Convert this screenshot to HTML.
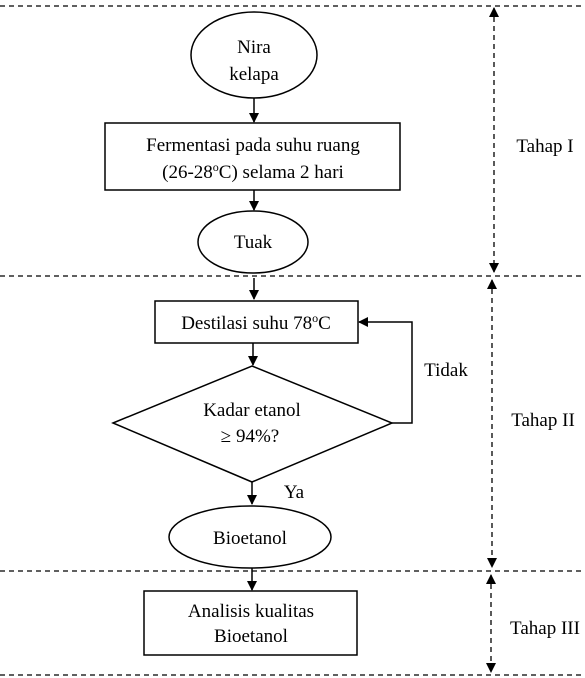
<!DOCTYPE html>
<html><head><style>body{margin:0;background:#fff}svg{display:block}</style></head><body>
<svg width="585" height="678" xmlns="http://www.w3.org/2000/svg" font-family="Liberation Serif, serif" font-size="19" fill="none" stroke="#000">
<defs><marker id="a" markerWidth="10" markerHeight="10" refX="9" refY="5" orient="auto-start-reverse" markerUnits="userSpaceOnUse"><path d="M0,0 L10,5 L0,10z" fill="#000" stroke="none"/></marker></defs>
<g stroke-dasharray="5,4" stroke-width="1.3">
<line x1="0" y1="6" x2="585" y2="6"/><line x1="0" y1="276" x2="585" y2="276"/><line x1="0" y1="571" x2="585" y2="571"/><line x1="0" y1="675" x2="585" y2="675"/>
<line x1="494" y1="8" x2="494" y2="272" marker-start="url(#a)" marker-end="url(#a)"/>
<line x1="492" y1="280" x2="492" y2="567" marker-start="url(#a)" marker-end="url(#a)"/>
<line x1="491" y1="575" x2="491" y2="672" marker-start="url(#a)" marker-end="url(#a)"/>
</g>
<g stroke-width="1.5">
<ellipse cx="254" cy="55" rx="63" ry="43"/>
<rect x="105" y="123" width="295" height="67"/>
<ellipse cx="253" cy="242" rx="55" ry="31"/>
<rect x="155" y="301" width="203" height="42"/>
<path d="M113,423 L252,366 L392,423 L252,482 Z"/>
<ellipse cx="250" cy="537" rx="81" ry="31"/>
<rect x="144" y="591" width="213" height="64"/>
<line x1="254" y1="98" x2="254" y2="122" marker-end="url(#a)"/>
<line x1="254" y1="190" x2="254" y2="210" marker-end="url(#a)"/>
<line x1="254" y1="278" x2="254" y2="299" marker-end="url(#a)"/>
<line x1="253" y1="343" x2="253" y2="365" marker-end="url(#a)"/>
<polyline points="392,423 412,423 412,322 359,322" marker-end="url(#a)"/>
<line x1="252" y1="482" x2="252" y2="504" marker-end="url(#a)"/>
<line x1="252" y1="568" x2="252" y2="590" marker-end="url(#a)"/>
</g>
<g fill="#000" stroke="none" text-anchor="middle">
<text x="254" y="53">Nira</text><text x="254" y="80">kelapa</text>
<text x="253" y="151">Fermentasi pada suhu ruang</text>
<text x="253" y="178">(26-28<tspan dy="-7" font-size="12">o</tspan><tspan dy="7">C) selama 2 hari</tspan></text>
<text x="253" y="248">Tuak</text>
<text x="256" y="329">Destilasi suhu 78<tspan dy="-7" font-size="12">o</tspan><tspan dy="7">C</tspan></text>
<text x="252" y="416">Kadar etanol</text><text x="250" y="442">≥ 94%?</text>
<text x="250" y="544">Bioetanol</text>
<text x="251" y="617">Analisis kualitas</text><text x="251" y="642">Bioetanol</text>
<text x="446" y="376">Tidak</text>
<text x="294" y="498">Ya</text>
<text x="545" y="152">Tahap I</text>
<text x="543" y="426">Tahap II</text>
<text x="545" y="634">Tahap III</text>
</g>
</svg>
</body></html>
